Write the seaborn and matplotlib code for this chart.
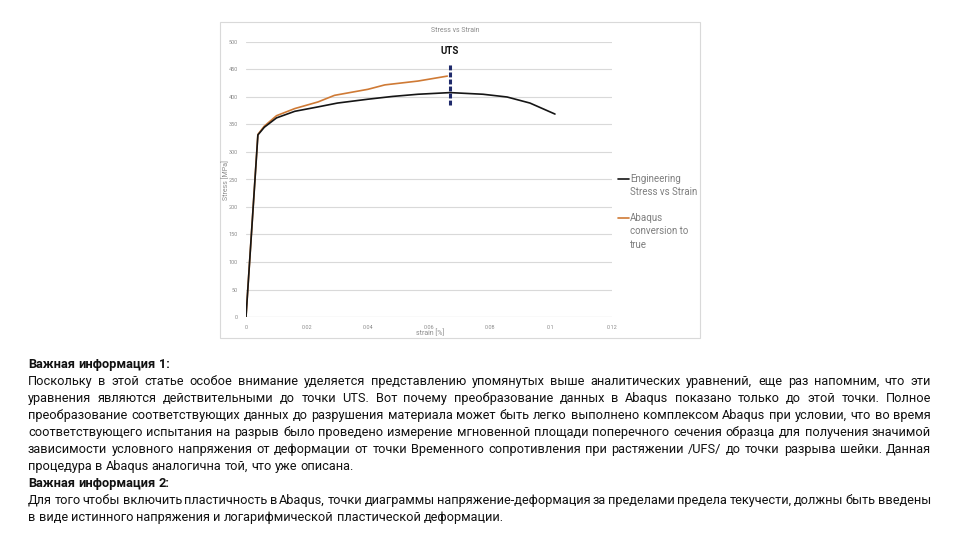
import matplotlib
matplotlib.use("Agg")
import matplotlib.pyplot as plt
import seaborn as sns
import pandas as pd
from matplotlib.lines import Line2D
from matplotlib.patches import Rectangle

# ---------------- data ----------------
eng_strain = [0, 0.0039, 0.006, 0.010, 0.016, 0.0236, 0.030, 0.040, 0.048, 0.0564, 0.0669, 0.0777, 0.0856, 0.0931, 0.1013]
eng_stress = [0, 331, 345, 362, 374, 382, 389, 396, 401, 405, 408, 405, 400, 389, 369]
true_strain = [0, 0.0039, 0.006, 0.010, 0.016, 0.0236, 0.029, 0.040, 0.0455, 0.0564, 0.066]
true_stress = [0, 332, 347, 366, 379, 391, 403, 414, 422, 429, 438]
uts_strain = 0.0669
uts_range = [385, 462]
x_ticks = [0, 0.02, 0.04, 0.06, 0.08, 0.10, 0.12]
x_tick_labels = ["0", "0.02", "0.04", "0.06", "0.08", "0.1", "0.12"]
y_ticks = [0, 50, 100, 150, 200, 250, 300, 350, 400, 450, 500]
series_names = ["Engineering\nStress vs Strain", "Abaqus\nconversion to\ntrue"]

paragraph_lines = [
    ("Важная информация 1:", "bold", False),
    ("Поскольку в этой статье особое внимание уделяется представлению упомянутых выше аналитических уравнений, еще раз напомним, что эти", "normal", True),
    ("уравнения являются действительными до точки UTS. Вот почему преобразование данных в Abaqus показано только до этой точки. Полное", "normal", True),
    ("преобразование соответствующих данных до разрушения материала может быть легко выполнено комплексом Abaqus при условии, что во время", "normal", True),
    ("соответствующего испытания на разрыв было проведено измерение мгновенной площади поперечного сечения образца для получения значимой", "normal", True),
    ("зависимости условного напряжения от деформации от точки Временного сопротивления при растяжении /UFS/ до точки разрыва шейки. Данная", "normal", True),
    ("процедура в Abaqus аналогична той, что уже описана.", "normal", False),
    ("Важная информация 2:", "bold", False),
    ("Для того чтобы включить пластичность в Abaqus, точки диаграммы напряжение-деформация за пределами предела текучести, должны быть введены", "normal", True),
    ("в виде истинного напряжения и логарифмической пластической деформации.", "normal", False),
]

# ---------------- figure ----------------
sns.set_theme(style="white")
plt.rcParams["font.family"] = ["Roboto", "DejaVu Sans"]

W, H = 960, 540
fig = plt.figure(figsize=(9.6, 5.4), dpi=100)
fig.patch.set_facecolor("white")

def fx(px):
    return px / W

def fy(py):
    return 1 - py / H

# chart frame
fig.patches.append(Rectangle((fx(220), fy(338)), fx(700) - fx(220), fy(22) - fy(338),
                             transform=fig.transFigure, fill=False, edgecolor="#d9d9d9", lw=0.8))

ax = fig.add_axes([fx(246), fy(317), fx(612) - fx(246), fy(42) - fy(317)])

df = pd.concat([
    pd.DataFrame({"strain": eng_strain, "stress": eng_stress, "series": series_names[0]}),
    pd.DataFrame({"strain": true_strain, "stress": true_stress, "series": series_names[1]}),
])
palette = {series_names[0]: "#151515", series_names[1]: "#CF7A35"}
sns.lineplot(data=df[df.series == series_names[1]], x="strain", y="stress", color=palette[series_names[1]],
             lw=1.2, ax=ax, legend=False, sort=False, estimator=None)
sns.lineplot(data=df[df.series == series_names[0]], x="strain", y="stress", color=palette[series_names[0]],
             lw=1.2, ax=ax, legend=False, sort=False, estimator=None)

ax.plot([uts_strain, uts_strain], uts_range, color="#1F2A6B", lw=2.2, ls=(0, (1.6, 0.7)))
ax.text(uts_strain, 474, "UTS", ha="center", va="bottom", fontsize=7, fontweight="bold", color="#111111")

ax.set_xlim(0, 0.12)
ax.set_ylim(0, 500)
ax.set_xticks(x_ticks)
ax.set_xticklabels(x_tick_labels)
ax.set_yticks(y_ticks)
ax.tick_params(axis="both", labelsize=4, colors="#8c8c8c", length=0, pad=6)
ax.yaxis.grid(True, color="#d9d9d9", lw=0.8)
ax.xaxis.grid(False)
for s in ax.spines.values():
    s.set_visible(False)
ax.axhline(0, color="#bfbfbf", lw=0.8, zorder=0)
ax.set_xlabel("")
ax.set_ylabel("")

fig.text(fx(430), fy(333), "strain [%]", ha="center", va="center", fontsize=5, color="#8c8c8c")
fig.text(fx(226), fy(180), "Stress [MPa]", ha="center", va="center", rotation=90, fontsize=5, color="#8c8c8c")
fig.text(fx(455), fy(31), "Stress vs Strain", ha="center", va="center", fontsize=5, color="#8c8c8c")

# legend (handle aligned with first label line)
legend_y = [179, 218]
for name, ly in zip(series_names, legend_y):
    fig.add_artist(Line2D([fx(618), fx(629)], [fy(ly), fy(ly)], color=palette[name], lw=1.2,
                          transform=fig.transFigure))
    for j, part in enumerate(name.split("\n")):
        fig.text(fx(630), fy(ly + j * 13.3), part, ha="left", va="center", fontsize=7, color="#7f7f7f")

# ---------------- justified paragraph text ----------------
renderer = fig.canvas.get_renderer()
left_px, right_px = 28, 931
y0, dy = 368, 16.95
fs = 9.2
tmp1 = fig.text(0, 0, "a a", fontsize=fs)
tmp2 = fig.text(0, 0, "aa", fontsize=fs)
space_w = tmp1.get_window_extent(renderer).width - tmp2.get_window_extent(renderer).width
tmp1.remove()
tmp2.remove()
for i, (line, weight, justify) in enumerate(paragraph_lines):
    ypos = fy(y0 + i * dy)
    words = line.split(" ")
    objs = [fig.text(0, ypos, w, fontsize=fs, fontweight=weight, color="#111111", va="baseline", ha="left")
            for w in words]
    widths = [o.get_window_extent(renderer).width for o in objs]
    if justify and len(words) > 1:
        gap = (right_px - left_px - sum(widths)) / (len(words) - 1)
    else:
        gap = space_w
    x = left_px
    for o, w in zip(objs, widths):
        o.set_x(fx(x))
        x += w + gap

fig.savefig("out.png", dpi=100, facecolor="white")
